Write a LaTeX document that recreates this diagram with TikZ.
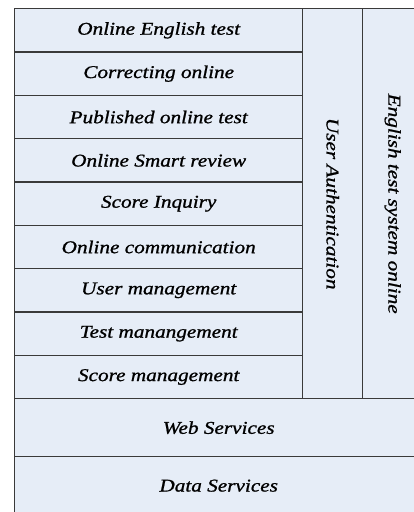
\documentclass[tikz,border=0pt]{standalone}
\usepackage{fontspec}
\setmainfont{Liberation Serif}
\newfontfamily\cellff{Liberation Serif}[FakeStretch=1.18, FakeBold=1]
\definecolor{boxfill}{HTML}{E6EDF7}
\definecolor{boxline}{HTML}{3A3A3A}
\newcommand{\cellfont}{\cellff\fontsize{18}{22}\selectfont\itshape}
\tikzset{
  cell/.style={draw=boxline, line width=1.4pt, fill=boxfill, anchor=north west, inner sep=0pt,
    font=\cellfont},
  rowcell/.style={cell, minimum width=288pt, minimum height=43.33pt},
  vtext/.style={rotate=-90, font=\cellfont},
}
\begin{document}
\begin{tikzpicture}[x=1pt,y=-1pt]
\useasboundingbox (0,0) rectangle (414,512);
\clip (0,0) rectangle (414,512);
\fill[white] (0,0) rectangle (414,512);
\node[rowcell] (r1) at (14,8) {Online English test};
\node[rowcell] (r2) at (14,51.33) {Correcting online};
\node[rowcell] (r3) at (14,94.67) {Published online test};
\node[rowcell] (r4) at (14,138) {Online Smart review};
\node[rowcell] (r5) at (14,181.33) {Score Inquiry};
\node[rowcell] (r6) at (14,224.67) {Online communication};
\node[rowcell] (r7) at (14,268) {User management};
\node[rowcell] (r8) at (14,311.33) {Test manangement};
\node[rowcell] (r9) at (14,354.67) {Score management};
\node[cell, minimum width=60pt, minimum height=390pt] (ua) at (302,8) {};
\node[vtext] (uat) at (ua.center) {User Authentication};
\node[cell, minimum width=60pt, minimum height=390pt] (ets) at (362,8) {};
\node[vtext] (etst) at (ets.center) {English test system online};
\node[cell, minimum width=408pt, minimum height=58pt] (web) at (14,398) {Web Services};
\node[cell, minimum width=408pt, minimum height=58pt] (data) at (14,456) {Data Services};
\end{tikzpicture}
\end{document}
